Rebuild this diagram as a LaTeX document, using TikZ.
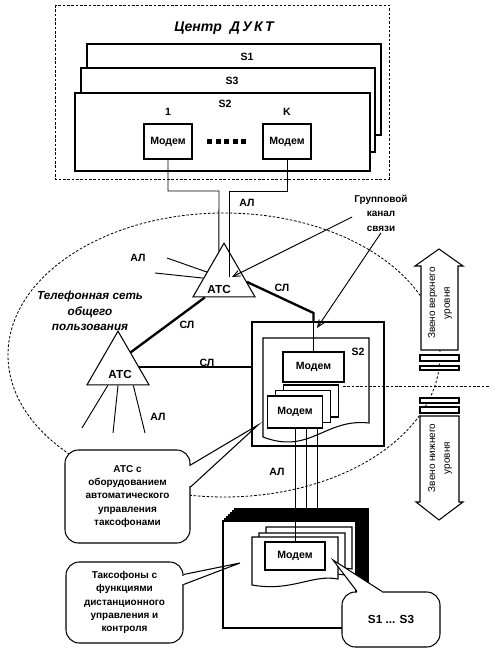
\documentclass[tikz,border=0pt]{standalone}
\usepackage{fontspec}
\setmainfont{Liberation Sans}
\usetikzlibrary{arrows.meta, positioning, calc, shapes.geometric}

\begin{document}
\begin{tikzpicture}[
  x=0.3mm, y=-0.3mm,
  every node/.style={font=\fontsize{9}{10}\selectfont\bfseries, inner sep=1pt},
  frame/.style={draw, line width=0.9pt, fill=white},
  modem/.style={frame, inner sep=0pt},
  ats/.style={regular polygon, regular polygon sides=3, draw, line width=0.9pt,
              fill=white, minimum size=21.5mm, inner sep=0pt},
  atstext/.style={font=\fontsize{10}{12}\selectfont\bfseries},
  callout/.style={draw, line width=0.9pt, fill=white, rounded corners=4mm,
                  align=center, font=\fontsize{8.5}{11.4}\selectfont\bfseries},
  sl/.style={line width=2pt},
  al/.style={line width=0.8pt},
  dline/.style={line width=0.7pt, dash pattern=on 2.2pt off 1.5pt},
  arr/.style={line width=0.8pt, -{Straight Barb[length=6pt, width=5pt]}},
  lvl/.style={draw, line width=0.9pt, fill=white},
  lvltext/.style={rotate=90, align=center, font=\fontsize{8.5}{12.5}\selectfont}
]
\useasboundingbox (0,0) rectangle (498,652);

% ── Public telephone network (dashed oval) ──
\draw[dline] (224,355) ellipse [x radius=216, y radius=142];
\node[align=center, font=\fontsize{10}{13.2}\selectfont\bfseries\itshape] (tfop) at (90,311)
  {Телефонная сеть\\общего\\пользования};

% ── DUKT centre ──
\draw[dline] (55,5) rectangle (389,179);
\node[font=\fontsize{12}{14}\selectfont\bfseries\itshape] (dukt) at (224,28) {Центр\ \ Д\,У\,К\,Т};
\draw[frame] (87,44) rectangle (381,135);
\draw[frame] (81,68) rectangle (375,152);
\draw[frame] (75,93) rectangle (370,171);
\node (s1) at (247,57) {S1};
\node (s3) at (232,81) {S3};
\node (s2) at (225,104) {S2};
\node (n1) at (168,112) {1};
\node (nk) at (287,112) {K};
\node[modem, minimum width=14.4mm, minimum height=10.5mm] (m1) at (168,141.5) {Модем};
\node[modem, minimum width=14.4mm, minimum height=10.5mm] (mk) at (287,141.5) {Модем};
\foreach \i in {0,...,4}
  \fill (207+\i*8.6,139.5) rectangle ++(5,5);

% ── Exchanges ──
\node[ats] (ats1) at (224,279) {};
\node[atstext] (ats1t) at (219,289) {АТС};
\node[ats] (ats2) at (118,367) {};
\node[atstext] (ats2t) at (120,374) {АТС};

% ── S2 (lower level) ──
\node[frame, minimum width=39.6mm, minimum height=37.2mm] (s2o) at (318,384) {};
\draw[frame] (263,437) -- (263,338) -- (369,338) -- (369,423)
  .. controls (325,418) and (310,455) .. (263,437) -- cycle;
\node (s2b) at (358,352) {S2};
\node[modem, minimum width=18.3mm, minimum height=9mm] (ms) at (313.5,367) {Модем};
\foreach \dx/\dy in {16/-11, 8/-5.5}
  \draw[frame] (267.5+\dx,396+\dy) rectangle (322.5+\dx,428+\dy);
\node[modem, minimum width=16.5mm, minimum height=9.6mm] (mf) at (295,412) {Модем};

% ── Lines between centre and exchanges ──
\draw[al] (m1.south) |- (219,191) -- ($(ats1.corner 1)!0.16!(ats1.corner 2)$);
\draw[al] (mk.south) |- (229,191) -- ($(ats1.center)+(5,-2)$);
\node (al1) at (247,203) {АЛ};

\coordinate (alu1) at (167,258);
\coordinate (alu2) at (155,273);
\draw[al] (alu1) -- ($(ats1.corner 1)!0.54!(ats1.corner 2)$);
\draw[al] (alu2) -- ($(ats1.corner 1)!0.65!(ats1.corner 2)$);
\node (al2) at (138,258) {АЛ};
\foreach \t/\px/\py [count=\j] in {0.34/82/428, 0.5/113/433, 0.74/145/433} {
  \coordinate (ald\j) at (\px,\py);
  \draw[al] ($(ats2.corner 2)!\t!(ats2.corner 3)$) -- (ald\j);
}
\node (al3) at (158,417) {АЛ};

% ── Trunk lines ──
\coordinate (bend) at (313.5,313);
\draw[sl] ($(ats1.corner 1)!0.72!(ats1.corner 3)$) -- (bend) -- (bend |- s2o.north);
\draw[sl] ($(ats1.corner 2)!0.2!(ats1.corner 3)$) -- ($(ats2.corner 1)!0.4!(ats2.corner 3)$);
\draw[sl] (ats2.east) -- (ats2.east -| s2o.west);
\draw[al] (s2o.north -| ms) -- (ms.north);
\node (sl1) at (187,325) {СЛ};
\node (sl2) at (282,288) {СЛ};
\node (sl3) at (207,363) {СЛ};

% ── Payphones ──
\coordinate (tx) at (295,521);
\draw[al] ($(mf.south)+(11,0)$) -- ($(tx)+(11,0)$);
\draw[al] ($(mf.south)+(22,0)$) -- ($(tx)+(22,0)$);
\node (al4) at (277,472) {АЛ};
\foreach \k in {6,...,1}
  \draw[line width=1.2pt, fill=white] (223+2*\k,521-2*\k) rectangle (356+2*\k,628-2*\k);
\draw[frame] (223,521) rectangle (356,628);
\foreach \dx/\dy in {14/-10, 7/-4, 0/0}
  \draw[frame] (252+\dx,585+\dy) -- (252+\dx,537+\dy) -- (338+\dx,537+\dy) -- (338+\dx,579+\dy)
    .. controls (312+\dx,574+\dy) and (292+\dx,592+\dy) .. (252+\dx,585+\dy) -- cycle;
\node[modem, minimum width=18mm, minimum height=8.4mm] (mb) at (295,556) {Модем};
\draw[al] (mf.south) -- (mb.north);

% ── Callouts ──
\node[callout, minimum width=37.5mm, minimum height=27.9mm] (c1) at (127.5,496.5)
  {АТС с\\оборудованием\\автоматического\\управления\\таксофонами};
\coordinate (c1tip) at (258,425);
\fill[white] ($(c1.east)+(-3,-30.5)$) rectangle ($(c1.east)+(1,-10.5)$);
\draw[line width=0.9pt] ($(c1.east)+(0,-31.5)$) -- (c1tip) -- ($(c1.east)+(0,-9.5)$);

\node[callout, minimum width=35.1mm, minimum height=24.3mm] (c2) at (124.5,602.5)
  {Таксофоны с\\функциями\\дистанционного\\управления и\\контроля};
\coordinate (c2tip) at (240,563);
\fill[white] ($(c2.east)+(-3,-27)$) rectangle ($(c2.east)+(1,-19)$);
\draw[line width=0.9pt] ($(c2.east)+(0,-28)$) -- (c2tip) -- ($(c2.east)+(0,-18)$);

\node[callout, minimum width=29.4mm, minimum height=16.5mm,
      font=\fontsize{10}{12}\selectfont\bfseries] (c3) at (391,619.5) {S1 ... S3};
\coordinate (c3tip) at (333,560);
\fill[white] ($(c3.north)+(-34,0)$) -- (c3tip) -- ($(c3.north)+(-9,0)$)
  -- ($(c3.north)+(-9,4)$) -- ($(c3.north)+(-34,4)$) -- cycle;
\draw[line width=0.9pt] ($(c3.north)+(-34,0)$) -- (c3tip) -- ($(c3.north)+(-9,0)$);

% ── Level arrows ──
\draw[lvl] (421,350) -- (421,266) -- (415,266) -- (439,249) -- (463,266) -- (458,266) -- (458,350) -- cycle;
\draw[lvl] (420,416) -- (459,416) -- (459,502) -- (463,502) -- (439,520) -- (416,502) -- (420,502) -- cycle;
\foreach \ya/\yb in {355/361, 366/370, 398/403, 407/413}
  \draw[lvl] (420,\ya) rectangle (459,\yb);
\node[lvltext] (up) at (440,303) {Звено верхнего\\уровня};
\node[lvltext] (dn) at (440,458) {Звено нижнего\\уровня};
\draw[dline] (343,386) -- (490,386);

% ── Group channel ──
\node[align=center, font=\fontsize{8.5}{12.5}\selectfont\bfseries] (grp) at (381,213)
  {Групповой\\канал\\связи};
\coordinate (grpA) at (232,277);
\coordinate (grpB) at (317,328);
\draw[arr] ($(grp.west)+(-1,4)$) -- (grpA);
\draw[arr] (grp.south) -- (grpB);
\end{tikzpicture}
\end{document}
